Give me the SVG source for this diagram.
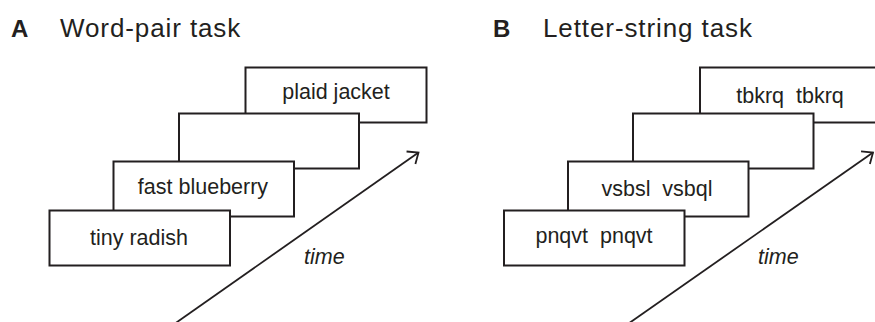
<svg xmlns="http://www.w3.org/2000/svg" width="875" height="322" viewBox="0 0 875 322">
<style>
  .box { fill: #ffffff; stroke: #231f20; stroke-width: 2; }
  .lbl { font-family: "Liberation Sans", Arial, sans-serif; font-size: 21.5px; fill: #231f20; text-anchor: middle; white-space: pre; }
  .title { font-family: "Liberation Sans", Arial, sans-serif; font-size: 26px; fill: #231f20; letter-spacing: 0.9px; }
  .panel { font-family: "Liberation Sans", Arial, sans-serif; font-size: 24px; font-weight: bold; fill: #231f20; }
  .time { font-family: "Liberation Sans", Arial, sans-serif; font-size: 21.5px; font-style: italic; fill: #231f20; }
  .arrow { fill: none; stroke: #231f20; stroke-width: 1.8; }
</style>
<defs>
  <marker id="open" markerUnits="userSpaceOnUse" markerWidth="30" markerHeight="30" viewBox="-15 -15 30 30" refX="0" refY="0" orient="auto">
    <path d="M-9.2,-7.7 L0,0 L-9.2,7.7" fill="none" stroke="#231f20" stroke-width="1.8" stroke-linejoin="miter"/>
  </marker>
</defs>
<rect width="875" height="322" fill="#ffffff"/>

<g id="titleA">
  <text class="panel" x="11" y="37">A</text>
  <text class="title" x="60" y="37">Word-pair task</text>
</g>
<g id="titleB">
  <text class="panel" x="493" y="37">B</text>
  <text class="title" x="543" y="37">Letter-string task</text>
</g>

<g id="A4">
  <rect class="box" x="245.5" y="67.5" width="181" height="55"/>
  <text class="lbl" x="336" y="99">plaid jacket</text>
</g>
<g id="A3">
  <rect class="box" x="179" y="113.5" width="180" height="55"/>
</g>
<g id="A2">
  <rect class="box" x="113.5" y="161.5" width="180.5" height="55"/>
  <text class="lbl" x="203" y="194">fast blueberry</text>
</g>
<g id="A1">
  <rect class="box" x="49.5" y="210.5" width="180.5" height="55"/>
  <text class="lbl" x="139" y="245">tiny radish</text>
</g>

<g id="B4">
  <rect class="box" x="700" y="67.5" width="181" height="55"/>
  <text class="lbl" x="790" y="103">tbkrq  tbkrq</text>
</g>
<g id="B3">
  <rect class="box" x="633" y="113.5" width="180.5" height="55"/>
</g>
<g id="B2">
  <rect class="box" x="568" y="161.5" width="180.5" height="55"/>
  <text class="lbl" x="657" y="196">vsbsl  vsbql</text>
</g>
<g id="B1">
  <rect class="box" x="504" y="210.5" width="180.5" height="55"/>
  <text class="lbl" x="594" y="243">pnqvt  pnqvt</text>
</g>

<g id="connectors">
  <line class="arrow" x1="175.7" y1="323" x2="418.5" y2="152.5" marker-end="url(#open)"/>
  <line class="arrow" x1="629.3" y1="323" x2="873" y2="152.5" marker-end="url(#open)"/>
</g>
<g id="timeA"><text class="time" x="304" y="264">time</text></g>
<g id="timeB"><text class="time" x="758" y="264">time</text></g>
</svg>
